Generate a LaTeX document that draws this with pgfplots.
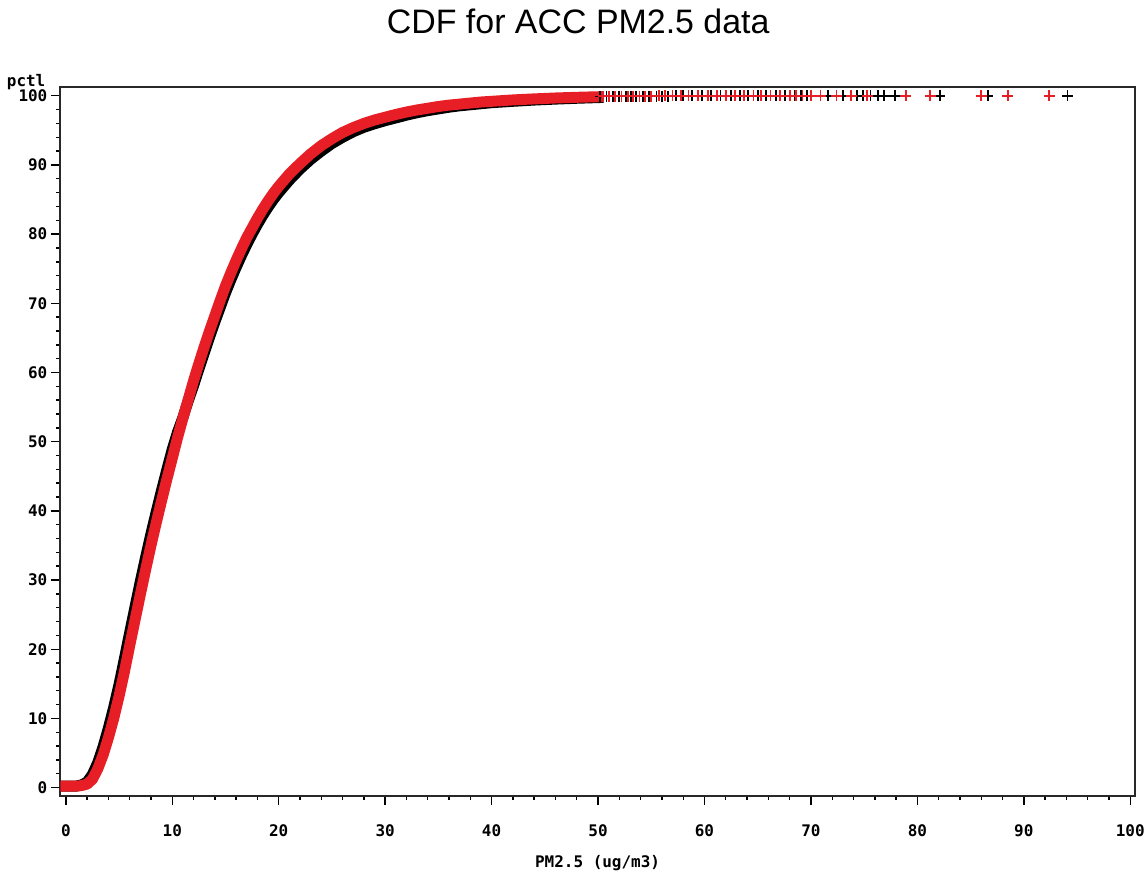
\documentclass[border=0pt]{standalone}
\usepackage{fontspec}
\setmainfont{Liberation Sans}
\newfontfamily\labfont{DejaVu Sans Mono}
\usepackage{pgfplots}
\pgfplotsset{compat=1.18}

\definecolor{sasred}{RGB}{232,30,38}
\definecolor{frame}{RGB}{40,40,40}

% empirical CDF, series 1 (black)
\pgfplotstableread{
x pct
0 0.2
0.5 0.2
1.0 0.22
1.5 0.4
2.0 0.8
2.5 1.9
3.0 3.6
3.5 5.9
4.0 8.6
4.5 11.6
5.0 14.9
5.5 18.6
6.0 22.4
6.5 26.1
7.0 29.8
7.5 33.3
8.0 36.7
8.5 39.9
9.0 43.0
9.5 46.0
10.0 48.9
10.5 51.4
11.0 53.5
11.5 55.9
12.0 58.1
12.5 60.5
13.0 62.8
13.5 65.1
14.0 67.3
14.5 69.4
15.0 71.5
15.5 73.4
16.0 75.2
16.5 76.9
17.0 78.5
17.5 80.0
18.0 81.4
18.5 82.7
19.0 83.9
19.5 85.0
20.0 86.0
21.0 87.8
22.0 89.4
23.0 90.8
24.0 92.0
25.0 93.1
26.0 94.0
27.0 94.8
28.0 95.45
29.0 95.95
30.0 96.4
31.0 96.8
32.0 97.2
33.0 97.55
34.0 97.85
35.0 98.1
36.0 98.35
37.0 98.55
38.0 98.7
39.0 98.85
40.0 99.0
42.0 99.2
44.0 99.38
46.0 99.52
48.0 99.64
50.0 99.74
}\blackcdf

% empirical CDF, series 2 (red)
\pgfplotstableread{
x pct
0 0.2
0.5 0.2
1.0 0.2
1.5 0.3
2.0 0.5
2.5 1.2
3.0 2.7
3.5 4.7
4.0 7.2
4.5 10.0
5.0 13.2
5.5 16.7
6.0 20.5
6.5 24.2
7.0 27.9
7.5 31.5
8.0 35.0
8.5 38.3
9.0 41.5
9.5 44.6
10.0 47.6
10.5 50.6
11.0 53.4
11.5 56.1
12.0 58.8
12.5 61.3
13.0 63.7
13.5 66.0
14.0 68.2
14.5 70.4
15.0 72.5
15.5 74.4
16.0 76.2
16.5 77.9
17.0 79.5
17.5 80.9
18.0 82.3
18.5 83.6
19.0 84.8
19.5 85.9
20.0 86.9
21.0 88.7
22.0 90.2
23.0 91.6
24.0 92.8
25.0 93.8
26.0 94.7
27.0 95.4
28.0 96.0
29.0 96.5
30.0 96.9
31.0 97.3
32.0 97.65
33.0 97.95
34.0 98.2
35.0 98.45
36.0 98.65
37.0 98.8
38.0 98.95
39.0 99.1
40.0 99.2
42.0 99.4
44.0 99.55
46.0 99.68
48.0 99.78
50.0 99.86
}\redcdf

% upper tail, individual observations (black)
\pgfplotstableread{
x pct
50.2 99.9
50.8 99.9
51.4 99.92
52.0 99.92
52.6 99.93
53.1 99.93
53.6 99.94
54.2 99.94
54.8 99.95
55.5 99.95
56.0 99.96
56.6 99.96
57.3 99.97
58.0 99.97
58.8 99.98
59.8 99.98
60.6 99.98
61.5 99.99
62.5 99.99
63.3 99.99
64.1 99.99
65.0 100
65.8 100
66.7 100
67.6 100
68.5 100
69.1 100
69.6 100
71.6 100
73.0 100
74.3 100
74.9 100
75.6 100
76.3 100
76.9 100
77.9 100
82.1 100
86.6 100
94.1 100
}\blacktail

% upper tail, individual observations (red)
\pgfplotstableread{
x pct
50.5 99.92
51.0 99.93
51.6 99.93
52.2 99.94
52.8 99.94
53.3 99.95
53.9 99.95
54.4 99.96
55.0 99.96
55.7 99.97
56.3 99.97
57.0 99.98
57.8 99.98
58.5 99.98
59.4 99.99
60.3 99.99
61.2 99.99
62.0 100
62.9 100
63.7 100
64.6 100
65.3 100
66.2 100
67.1 100
68.0 100
68.6 100
69.2 100
70.0 100
70.9 100
72.4 100
73.8 100
75.3 100
78.9 100
81.2 100
86.0 100
88.5 100
92.4 100
}\redtail

\begin{document}
\begin{tikzpicture}
\begin{axis}[
  name=ax,
  scale only axis,
  width=1078pt, height=711pt,
  xmin=-0.56, xmax=100.47,
  ymin=-1.23, ymax=101.3,
  axis line style={frame, line width=1.6pt},
  tick style={black, line width=1.4pt},
  tick align=outside,
  tick pos=left,
  major tick length=9pt,
  minor tick length=4pt,
  xtick={0,10,...,100},
  ytick={0,10,...,100},
  minor x tick num=4,
  minor y tick num=4,
  /pgf/number format/assume math mode=true,
  ticklabel style={font=\labfont\bfseries\fontsize{16}{18}\selectfont},
  xticklabel style={yshift=-16pt},
  yticklabel style={xshift=0pt},
  title={CDF for ACC PM2.5 data},
  title style={at={(rel axis cs:0.482,1)}, anchor=base, yshift=47pt,
    font=\fontsize{34}{40}\selectfont},
  xlabel={PM2.5 (ug/m3)},
  xlabel style={at={(rel axis cs:0.5,0)}, anchor=base, yshift=-72pt,
    font=\labfont\bfseries\fontsize{16}{18}\selectfont},
  ylabel={pctl},
  ylabel style={at={(rel axis cs:0,1)}, anchor=base east, rotate=-90,
    xshift=-11pt, yshift=0pt,
    font=\labfont\bfseries\fontsize{16}{18}\selectfont},
]
\addplot[black, line width=11pt, line join=round, line cap=rect, no marks]
  table[x=x, y=pct] {\blackcdf};
\addplot[only marks, mark=+, mark size=5.5pt, black,
  mark options={line width=1.8pt}] table[x=x, y=pct] {\blacktail};
\addplot[sasred, line width=11pt, line join=round, line cap=rect, no marks]
  table[x=x, y=pct] {\redcdf};
\addplot[only marks, mark=+, mark size=5.5pt, sasred,
  mark options={line width=1.8pt}] table[x=x, y=pct] {\redtail};
\end{axis}
\path[use as bounding box] ([shift={(-60pt,-75pt)}]ax.south west)
  rectangle ([shift={(10pt,87pt)}]ax.north east);
\end{tikzpicture}
\end{document}
